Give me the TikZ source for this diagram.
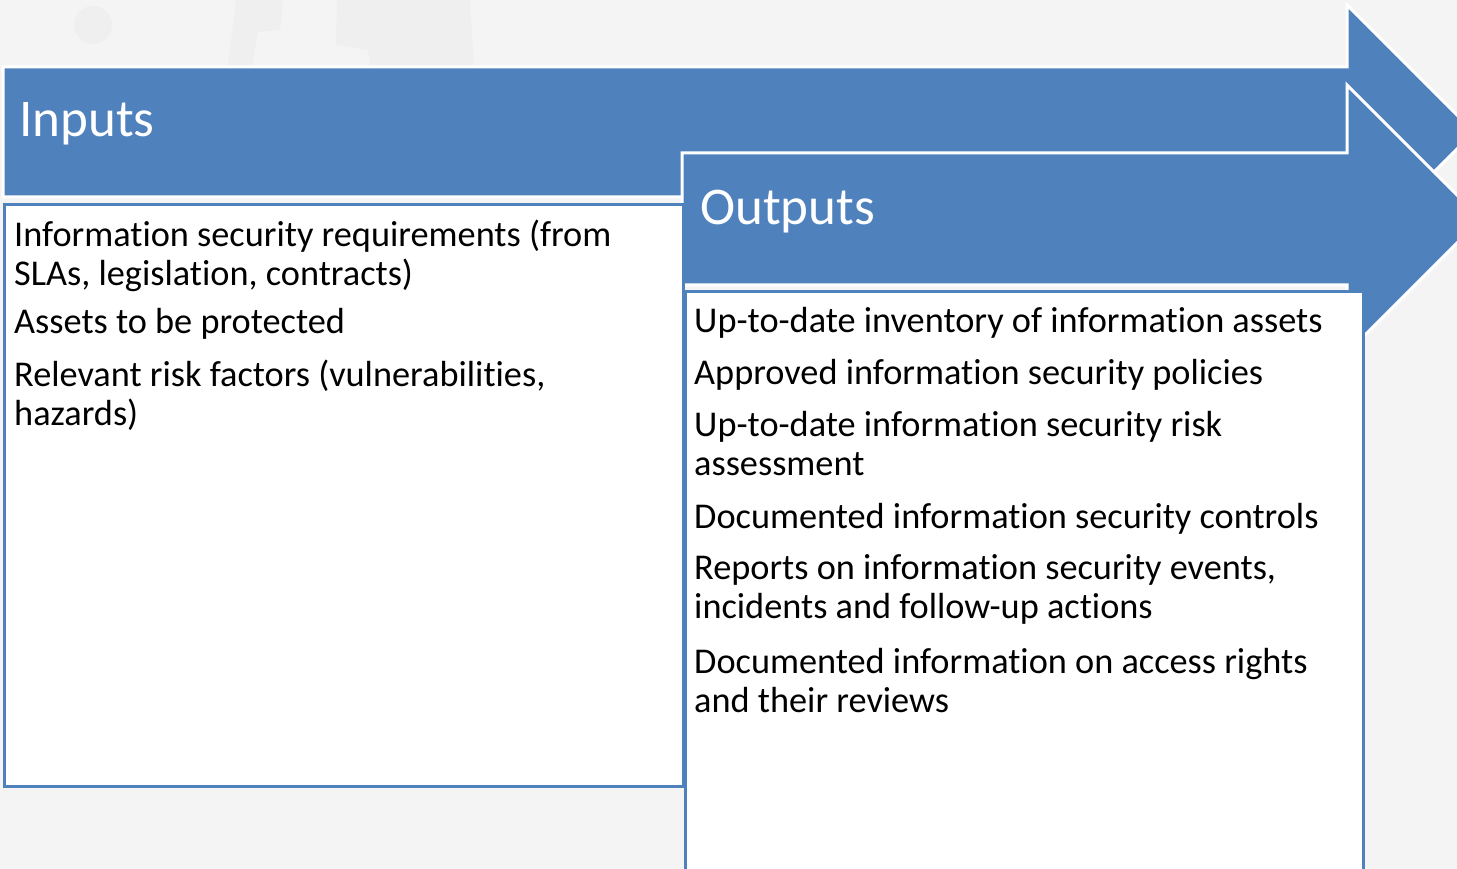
\documentclass[tikz,border=0pt]{standalone}
\usepackage{fontspec}
\setmainfont{Carlito}[Ligatures=NoCommon]
\usetikzlibrary{positioning}
\definecolor{accentblue}{HTML}{4F81BD}
\definecolor{slidebg}{HTML}{F4F4F4}
\definecolor{watermark}{HTML}{EFEFEF}
\tikzset{
  flowarrow/.style={fill=accentblue, draw=white, line width=3pt, line join=miter},
  listbox/.style={rectangle, fill=white, draw=accentblue, line width=3pt,
                  inner sep=0pt, anchor=north west},
  headtxt/.style={font=\fontsize{53}{60}\selectfont, text=white,
                  anchor=base west, inner sep=0pt},
  itemtxt/.style={font=\fontsize{36.3}{38.5}\selectfont, align=left,
                  anchor=base west, inner sep=0pt},
}

\begin{document}
\begin{tikzpicture}[x=1pt, y=-1pt]
  \useasboundingbox[fill=slidebg] (0,0) rectangle (1457,869);
  \clip (0,0) rectangle (1457,869);

  % faint picture behind the slide
  \fill[watermark] (93,25) circle[radius=19];
  \fill[watermark] (236,0) -- (283,0) -- (280,30) -- (258,32) -- (252,65) -- (228,65) -- cycle;
  \fill[watermark] (337,0) -- (470,0) -- (474,65) -- (370,65) -- (368,50) -- (336,45) -- cycle;

  % Inputs arrow
  \draw[flowarrow] (3,67) -- (1347,67) -- (1347,5) -- (1474,132) -- (1347,259)
    -- (1347,197) -- (3,197) -- cycle;
  \node[headtxt] (intitle) at (19,137) {Inputs};

  % Outputs arrow
  \draw[flowarrow] (682,153) -- (1347,153) -- (1347,85) -- (1481,219) -- (1347,353)
    -- (1347,285) -- (682,285) -- cycle;
  \node[headtxt] (outtitle) at (700,225) {Outputs};

  % Inputs list (base = last line)
  \node[listbox, minimum width=679pt, minimum height=582pt] (inbox) at (3,203) {};
  \node[itemtxt] (in1) at ([shift={(11,82)}]inbox.north west)
    {Information security requirements (from\\SLAs, legislation, contracts)};
  \node[itemtxt] (in2) at ([shift={(11,130)}]inbox.north west) {Assets to be protected};
  \node[itemtxt] (in3) at ([shift={(11,222)}]inbox.north west)
    {Relevant risk factors (vulnerabilities,\\hazards)};

  % Outputs list
  \node[listbox, minimum width=678pt, minimum height=600pt] (outbox) at (684,290) {};
  \node[itemtxt] (out1) at ([shift={(10,42)}]outbox.north west)
    {Up-to-date inventory of information assets};
  \node[itemtxt] (out2) at ([shift={(10,94)}]outbox.north west)
    {Approved information security policies};
  \node[itemtxt] (out3) at ([shift={(10,185)}]outbox.north west)
    {Up-to-date information security risk\\assessment};
  \node[itemtxt] (out4) at ([shift={(10,238)}]outbox.north west)
    {Documented information security controls};
  \node[itemtxt] (out5) at ([shift={(10,328)}]outbox.north west)
    {Reports on information security events,\\incidents and follow-up actions};
  \node[itemtxt] (out6) at ([shift={(10,422)}]outbox.north west)
    {Documented information on access rights\\and their reviews};
\end{tikzpicture}
\end{document}
